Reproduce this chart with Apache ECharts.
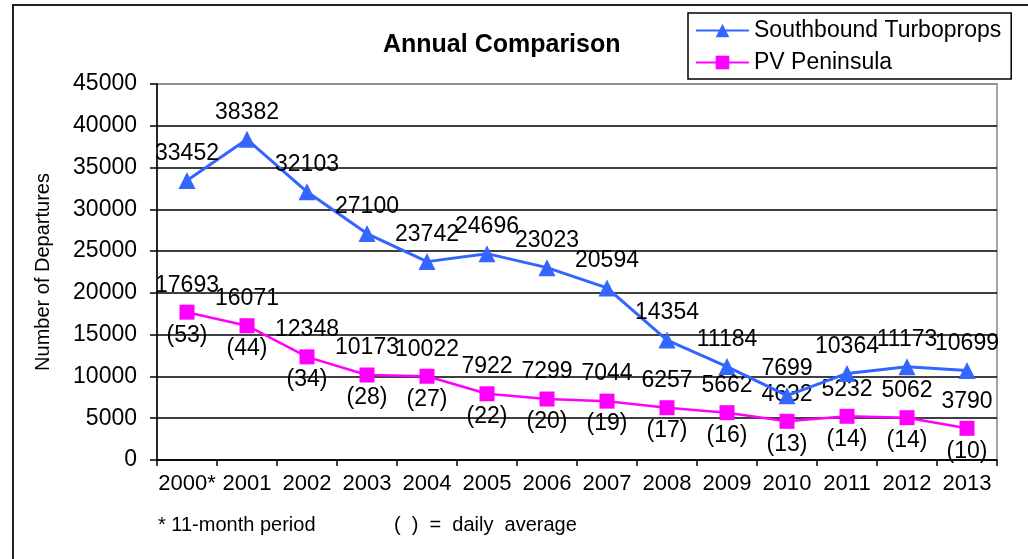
<!DOCTYPE html>
<html>
<head>
<meta charset="utf-8">
<title>Annual Comparison</title>
<script src="https://cdn.jsdelivr.net/npm/echarts@6/dist/echarts.min.js"></script>
<style>
  html, body { margin: 0; padding: 0; background: #fff; }
  #main { width: 1028px; height: 559px; }
</style>
</head>
<body>
<div id="main"></div>
<script>
// 年份
var years = ['2000*', '2001', '2002', '2003', '2004', '2005', '2006', '2007', '2008', '2009', '2010', '2011', '2012', '2013'];
// 两条线的数据
var southbound = [33452, 38382, 32103, 27100, 23742, 24696, 23023, 20594, 14354, 11184, 7699, 10364, 11173, 10699];
var peninsula = [17693, 16071, 12348, 10173, 10022, 7922, 7299, 7044, 6257, 5662, 4632, 5232, 5062, 3790];
// 日均
var dailyAvg = [53, 44, 34, 28, 27, 22, 20, 19, 17, 16, 13, 14, 14, 10];
var yTicks = [0, 5000, 10000, 15000, 20000, 25000, 30000, 35000, 40000, 45000];

var font = 'Liberation Sans, Arial, sans-serif';
var myChart = echarts.init(document.getElementById('main'));

var option = {
  animation: false,
  backgroundColor: '#fff',
  title: {
    text: 'Annual Comparison',
    left: 383,
    top: 33,
    padding: 0,
    textStyle: { fontFamily: font, fontSize: 25, fontWeight: 'bold', color: '#000' }
  },
  legend: {
    data: ['Southbound Turboprops', 'PV Peninsula'],
    orient: 'vertical',
    left: 688,
    top: 13,
    padding: [6, 10, 5, 7],
    itemWidth: 53,
    itemHeight: 17,
    itemGap: 9,
    backgroundColor: '#fff',
    borderColor: '#000',
    borderWidth: 1.5,
    textStyle: { fontFamily: font, fontSize: 23, color: '#000' }
  },
  grid: {
    left: 157,
    right: 31,
    top: 84,
    bottom: 99,
    show: true,
    borderColor: '#888',
    borderWidth: 1.5,
    backgroundColor: '#fff'
  },
  xAxis: {
    type: 'category',
    data: years,
    boundaryGap: true,
    axisLine: { lineStyle: { color: '#000', width: 1.5 } },
    axisTick: { show: true, length: 6, interval: 0, lineStyle: { color: '#000', width: 1.5 } },
    axisLabel: { interval: 0, margin: 13, fontFamily: font, fontSize: 22, color: '#000' },
    splitLine: { show: false }
  },
  yAxis: {
    type: 'value',
    min: 0,
    max: 45000,
    interval: 5000,
    name: 'Number of Departures',
    nameLocation: 'middle',
    nameGap: 104,
    nameTextStyle: { fontFamily: font, fontSize: 20, color: '#000' },
    axisLine: { show: true, lineStyle: { color: '#000', width: 1.5 } },
    axisTick: { show: true, length: 7, lineStyle: { color: '#000', width: 1.5 } },
    axisLabel: {
      margin: 20,
      fontFamily: font,
      fontSize: 23,
      color: '#000',
      formatter: function (v) { return yTicks.indexOf(v) >= 0 ? String(v) : ''; }
    },
    splitLine: {
      lineStyle: { color: ['#000', '#000', '#000', '#000', '#000', '#000', '#000', '#000', '#000', '#888'], width: 1.5 }
    }
  },
  series: [
    {
      name: 'PV Peninsula',
      type: 'line',
      data: peninsula,
      symbol: 'rect',
      symbolSize: 15,
      z: 2,
      itemStyle: { color: '#ff00ff' },
      lineStyle: { color: '#ff00ff', width: 2.5 },
      label: {
        show: true,
        position: 'top',
        distance: 8,
        fontFamily: font,
        fontSize: 23,
        color: '#000'
      }
    },
    {
      name: 'PV daily',
      type: 'line',
      data: peninsula,
      symbol: 'rect',
      symbolSize: 15,
      silent: true,
      z: 1,
      itemStyle: { color: 'rgba(0,0,0,0)' },
      lineStyle: { width: 0, opacity: 0 },
      label: {
        show: true,
        position: 'bottom',
        distance: 4,
        fontFamily: font,
        fontSize: 23,
        color: '#000',
        formatter: function (p) { return '(' + dailyAvg[p.dataIndex] + ')'; }
      }
    },
    {
      name: 'Southbound Turboprops',
      type: 'line',
      data: southbound,
      symbol: 'triangle',
      symbolSize: 17,
      z: 3,
      itemStyle: { color: '#3366ff' },
      lineStyle: { color: '#3366ff', width: 3 },
      label: {
        show: true,
        position: 'top',
        distance: 7,
        fontFamily: font,
        fontSize: 23,
        color: '#000'
      }
    }
  ],
  graphic: [
    {
      type: 'rect',
      silent: true,
      z: -10,
      shape: { x: 13, y: 5, width: 1100, height: 700 },
      style: { fill: 'none', stroke: '#222', lineWidth: 2 }
    },
    {
      type: 'text',
      left: 158,
      top: 515,
      style: { text: '* 11-month period', fontFamily: font, fontSize: 20, fill: '#000' }
    },
    {
      type: 'text',
      left: 394,
      top: 515,
      style: { text: '(  )  =  daily  average', fontFamily: font, fontSize: 20, fill: '#000' }
    }
  ]
};

myChart.setOption(option);
</script>
</body>
</html>
